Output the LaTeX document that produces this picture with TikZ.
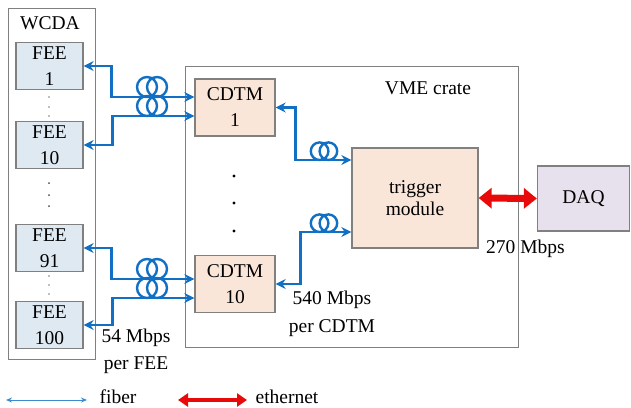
\documentclass[tikz,border=0pt]{standalone}
\usepackage{fontspec}
\setmainfont{Liberation Serif}
\usepackage{xcolor}
\usetikzlibrary{positioning, arrows.meta}
\definecolor{fibblue}{RGB}{18,112,196}
\definecolor{legblue}{RGB}{60,140,205}
\definecolor{ethred}{RGB}{232,10,10}
\definecolor{feefill}{RGB}{222,233,242}
\definecolor{modfill}{RGB}{250,230,216}
\definecolor{daqfill}{RGB}{231,225,238}
\definecolor{edge}{RGB}{128,128,128}

\begin{document}
\begin{tikzpicture}[
    x=1pt, y=-1pt,
    txt/.style   ={font=\fontsize{19.5}{26}\selectfont, align=center, inner sep=0pt},
    box/.style   ={txt, draw=edge, line width=1.3pt},
    fee/.style   ={box, fill=feefill, minimum width=67pt, minimum height=47pt},
    cdtm/.style  ={box, fill=modfill, minimum width=80pt, minimum height=57pt},
    crate/.style ={draw=edge, line width=1pt, inner sep=0pt},
    fib/.style   ={fibblue, line width=2.6pt, {Stealth[length=10pt,width=10pt]}-{Stealth[length=10pt,width=10pt]}},
    eth/.style   ={ethred, line width=7pt, {Triangle[length=13pt,width=20pt]}-{Triangle[length=13pt,width=20pt]}},
    coil/.pic    ={\draw[fibblue, line width=2.4pt] (-5,-10) circle[radius=10pt] (5,-10) circle[radius=10pt];},
]
\useasboundingbox (0,0) rectangle (631,407);

% enclosures
\node[crate, minimum width=87pt,  minimum height=351pt] (wcda)  at (51.5,183.5) {};
\node[crate, minimum width=333pt, minimum height=281pt] (crate) at (351.5,206.5) {};
\node[txt] (wcdalbl)  at (50,23) {WCDA};
\node[txt] (cratelbl) at (428,88) {VME crate};

% front-end boards
\node[fee] (fee1)   at (49.5,66)  {FEE\\1};
\node[fee] (fee10)  at (49.5,145) {FEE\\10};
\node[fee] (fee91)  at (49.5,248) {FEE\\91};
\node[fee] (fee100) at (49.5,325) {FEE\\100};

\foreach \y in {97,107,116,276,285,294}
    \fill[gray] (49,\y) circle[radius=0.8pt];
\foreach \y in {183,195,206}
    \fill[gray!60!black] (49,\y) circle[radius=1pt];

% crate modules
\node[cdtm] (cdtm1)  at (235,107.5) {CDTM\\1};
\node[cdtm] (cdtm10) at (235,284)   {CDTM\\10};
\node[box, fill=modfill, minimum width=126pt, minimum height=100pt,
      font=\fontsize{19.5}{21.5}\selectfont] (trig) at (415,198) {trigger\\module};
\node[box, fill=daqfill, minimum width=92pt, minimum height=65pt] (daq) at (583.5,198.5) {DAQ};

\foreach \y in {176,203,231}
    \fill (234,\y) circle[radius=1.6pt];

% fibers
\draw[fib] (fee1.east)   -- ++(28,0) |- ([yshift=10.5pt]cdtm1.west);
\draw[fib] (fee10.east)  -- ++(29,0) |- ([yshift=-8.5pt]cdtm1.west);
\draw[fib] (fee91.east)  -- ++(28,0) |- ([yshift=5pt]cdtm10.west);
\draw[fib] (fee100.east) -- ++(29,0) |- ([yshift=-14pt]cdtm10.west);
\draw[fib] (cdtm1.east)  -- ++(20,0) |- ([yshift=38pt]trig.west);
\draw[fib] (cdtm10.east) -- ++(25,0) |- ([yshift=-34pt]trig.west);

\pic at (152,97)  {coil};
\pic at (152,116) {coil};
\pic at (152,279) {coil};
\pic at (152,298) {coil};
\pic[scale=0.88] at (324,160) {coil};
\pic[scale=0.88] at (324,232) {coil};

% ethernet
\draw[eth] (trig.east) -- (daq.west);

% rates
\node[txt, font=\fontsize{19.5}{27}\selectfont] (feerate)  at (136,351.5) {54 Mbps\\per FEE};
\node[txt, font=\fontsize{19.5}{28}\selectfont] (cdtmrate) at (332,314)   {540 Mbps\\per CDTM};
\node[txt] (daqrate) at (525.5,249) {270 Mbps};

% legend
\coordinate (fibA) at (6,400);
\coordinate (fibB) at (87,400);
\coordinate (ethA) at (178,400);
\coordinate (ethB) at (247,400);
\draw[legblue, line width=1pt, {Stealth[length=6pt,width=5pt]}-{Stealth[length=6pt,width=5pt]}] (fibA) -- (fibB);
\draw[ethred, line width=4pt, {Triangle[length=10pt,width=13pt]}-{Triangle[length=10pt,width=13pt]}] (ethA) -- (ethB);
\node[txt, anchor=base] (fiblbl) at (118,403.5) {fiber};
\node[txt, anchor=base] (ethlbl) at (287,403.5) {ethernet};

\end{tikzpicture}
\end{document}
